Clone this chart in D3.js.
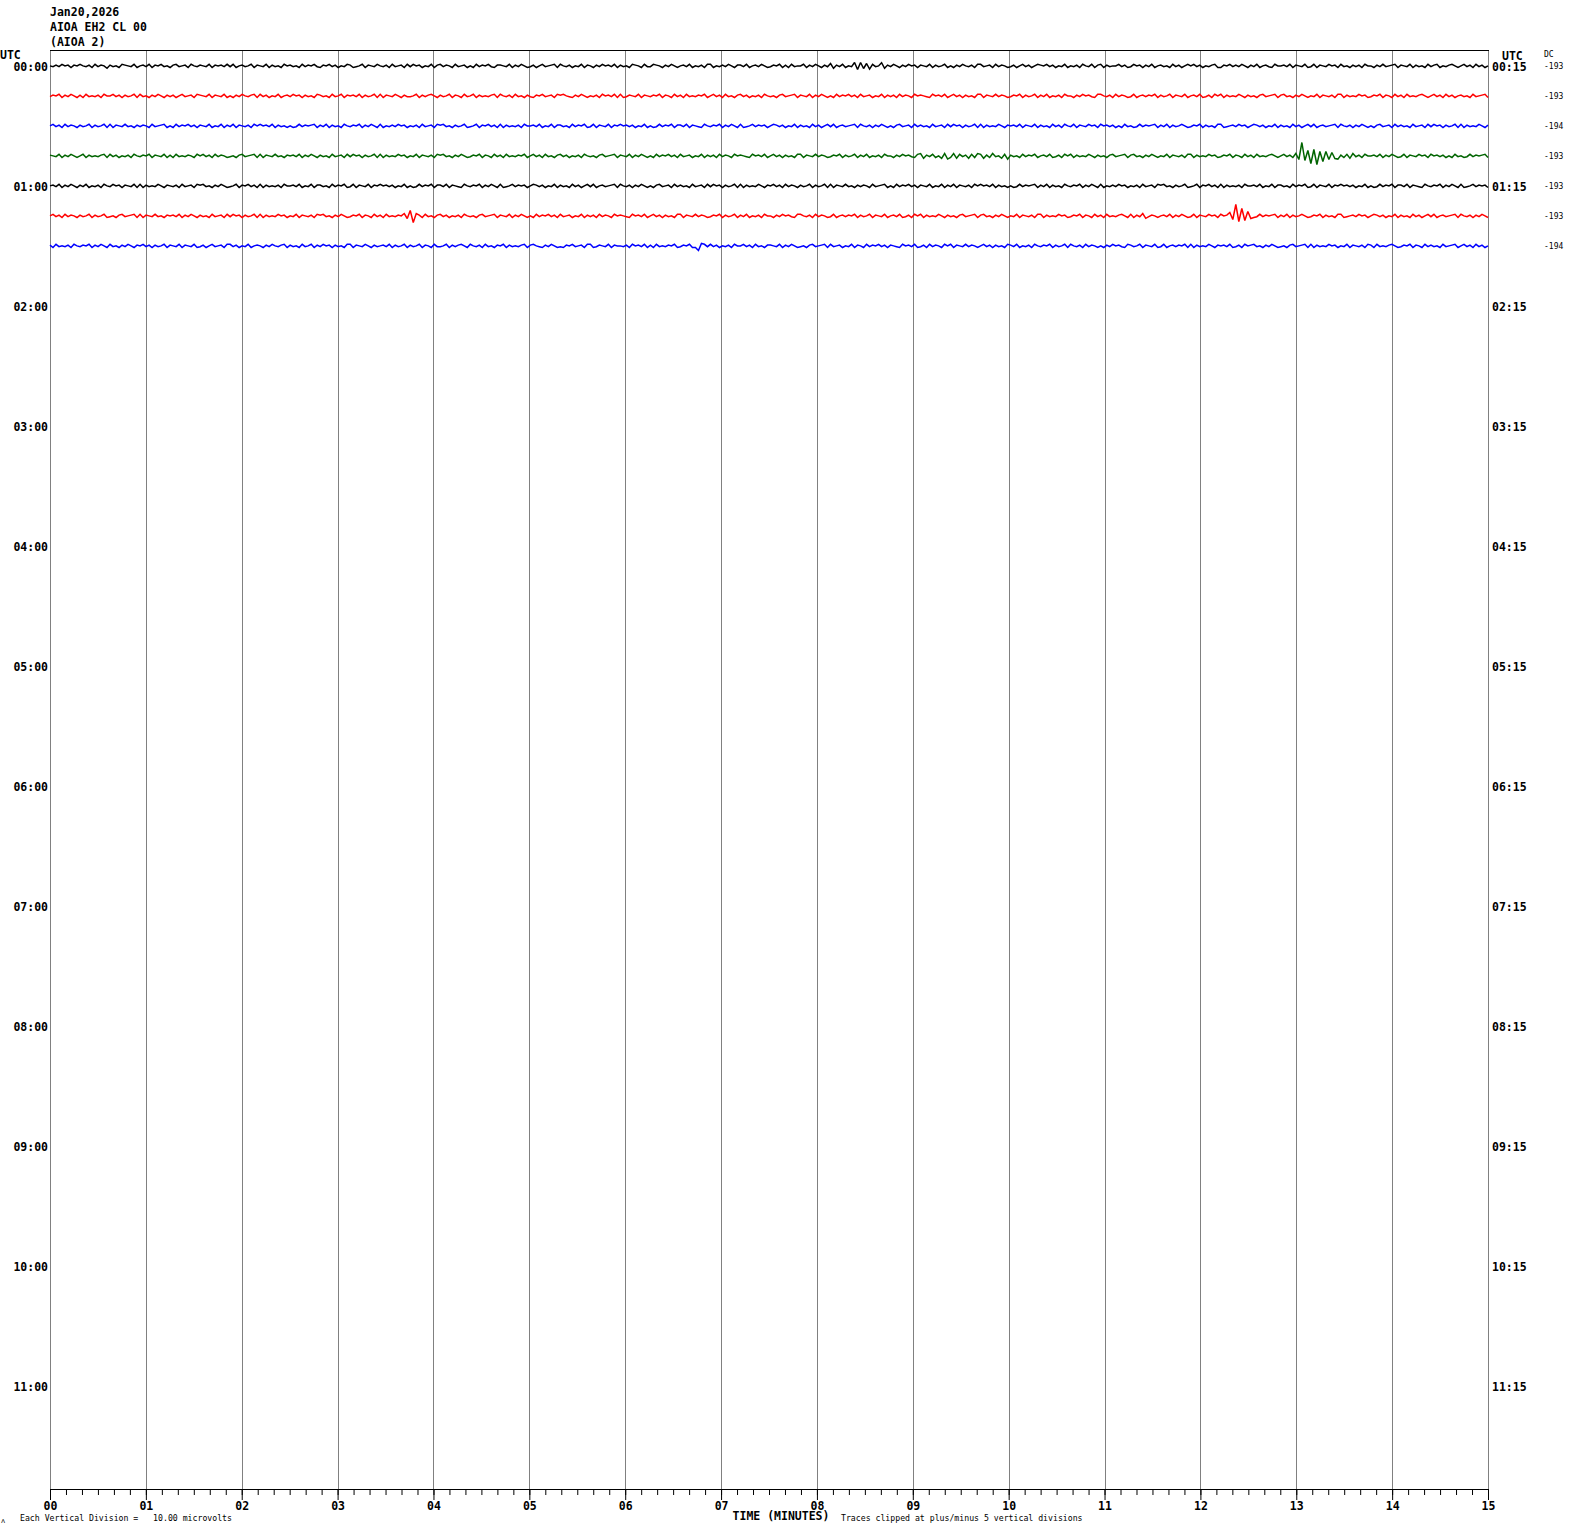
<!DOCTYPE html>
<html><head><meta charset="utf-8">
<script src="https://cdn.jsdelivr.net/npm/d3@7"></script>
<style>body{margin:0;background:#fff}svg{display:block}</style>
</head><body>
<svg id="c" width="1570" height="1534"></svg>
<script>
// ---------------- DATA ----------------
const headerLines = ["Jan20,2026", "AIOA EH2 CL 00", "(AIOA 2)"];
const leftHourLabels = ["00:00","01:00","02:00","03:00","04:00","05:00","06:00","07:00","08:00","09:00","10:00","11:00"];
const rightHourLabels = ["00:15","01:15","02:15","03:15","04:15","05:15","06:15","07:15","08:15","09:15","10:15","11:15"];
const minuteTicks = [0,1,2,3,4,5,6,7,8,9,10,11,12,13,14,15];
const minuteLabels = ["00","01","02","03","04","05","06","07","08","09","10","11","12","13","14","15"];
const traceColors = ["#000000", "#ff0000", "#0000ff", "#006400"];
const dcValues = ["-193", "-193", "-194", "-193", "-193", "-193", "-194"];

// trace samples: each digit 0..9 is a deflection (5 ~ baseline), 480 samples over 15 minutes
const trace0 = "5646354745 3564736458 4657345637 5463745365 7436547356 4563745463 6375465374 5637465735 4657364536 7453647563 4765374563 5647365473 6354756374 3645736547 5736453674 4563746357 6475365437 3564756374 5746354637 4657345736 6345746357 5463756473 3756463574 4637546357 6453747365 5374635746 2846375638 4729365184 6357463547 4563746537 5746356473 3654736457 6475364753 4536475637 5647356374 3746553647 6354746375 4657364753 5364756437 7453646357 4637546735 5463745637 6374563547 3657464735 5746365437 4563746573 6437564357 5364736475";
const trace1 = "6453746357 4736564735 5364746537 3657463574 6475365473 4563745637 5746356437 3647563754 6354746573 4657365374 5463746537 3745635746 6537464357 4653745736 5374656437 3564736574 6745365473 4356746357 5647354637 3764563745 6453745736 4736564537 5364736574 3647564735 6574365437 4563746357 5736453647 3654756374 6473645735 4567354637 5364746573 3745636457 6453746537 4637564735 5746354673 3564736457 6375464537 4653745637 5463764735 3746563574 6574365437 4365746357 5637456473 3746563547 6453745736 4736564357 5364736475 4657365437";
const trace2 = "5364736457 4653746537 3745636574 6457365437 5736453647 4563756374 6374564735 3546374657 5763645437 4637465735 6453746357 3756463547 5647365473 4365746537 6537453647 3746564735 5463756374 4657364537 6374563745 3546475637 5763645374 4637456735 6453746357 3765364547 5346475637 4657364753 6375465437 3564746357 5743654736 4657365473 6354746537 3746563574 5463745637 4657364735 6374563547 3546475736 5763645437 4637465357 6453746573 3765463547 5346475637 4657364753 6375465437 3564746357 5743654736 4657365473 6354746537 3746563574";
const trace3 = "4563746357 5374656437 3647564735 6453745637 4736564573 5364736457 6574365437 3745636574 5463746357 4657365473 6354746537 3746563547 5637456473 4365746357 6453745736 4736564537 5364736574 3647564735 6574365437 4563746357 5736453647 3654756374 6473645735 4567354637 5364746573 3745636457 6453746537 4637564735 5746354673 2846375829 7283648372 3847265839 4657364537 5463764735 3746563574 6574365437 4365746357 5637456473 3746563547 6453745736 4736564357 5364736475 3827463829 4738264735 5463746357 6374563547 3546475736 5763645437";
const trace4 = "5463746357 4637564735 6354745637 3746563574 5647365473 4365746357 6537453647 3746564735 5463756374 4657364537 6374563745 3546475637 5763645374 4637456735 6453746357 3765364547 5346475637 4657364753 6375465437 3564746357 5743654736 4657365473 6354746537 3746563574 5364736457 4653746537 3745636574 6457365437 5736453647 4563756374 6374564735 3546374657 5763645437 4637465735 6453746357 3756463547 5647365473 4365746537 6537453647 3746564735 5463756374 4657364537 6374563745 3546475637 5763645374 4637456735 6453746357 3765364547";
const trace5 = "5364736457 4653746537 6574365437 3745636574 5463746357 4657365473 6354746537 3746563547 5637456473 4365746357 6453745736 4736564537 5364736574 3647564735 6574365437 4563746357 5736453647 3654756374 6473645735 4567354637 5364746573 3745636457 6453746537 4637564735 5746354673 3564736457 6375464537 4653745637 5463764735 3746563574 6574365437 4365746357 5637456473 3746563547 6453745736 4736564357 3746286457 5463746357 6374563547 3546475736 5763645437 4637465357 6453746573 3765463547 5346475637 4657364753 6375465437 3564746357";
const trace6 = "4736564735 6453746357 3657463574 5364746537 4563745637 6475365473 3647563754 5746356437 4657365374 6354746573 3745635746 5463746537 4653745736 6537464357 3564736574 5374656437 4356746357 6745365473 3764563745 5647354637 4736564537 6453745736 3647564735 5364736574 4563746357 6574365437 3654756374 5736453647 4567354637 6473645735 3745636457 5364746573 4637564735 6453746537 3564736457 5746354673 4653745637 6375464537 3746563574 5463764735 4365746357 6574365437 3746563547 5637456473 4736564357 6453745736 4657365437 5364736475";
const traceStrings = [trace0, trace1, trace2, trace3, trace4, trace5, trace6];

// seismic events: row, first sample index, pixel deflections (negative = up)
const eventRows = [0, 3, 5, 5, 6];
const eventStarts = [268, 415, 118, 393, 215];
const eventValues = [
  [-3, 4, -3, 3],
  [-2, 4, -13, 5, -5, 8, -6, 9, -4, 6, -4, 4, -3, 3],
  [-2, 3, -5, 7, -2],
  [-3, 4, -11, 6, -7, 5, -4, 3],
  [2, 5, -2]
];

// ---------------- CHART ----------------
const svg = d3.select("#c");
const plotLeft = 50, plotRight = 1488, plotTop = 50, axisY = 1489;
const x = d3.scaleLinear().domain([0, 15]).range([plotLeft, plotRight]);
const rowY = d3.scaleLinear().domain([0, 48]).range([65, 1505]);
const amp = d3.scaleLinear().domain([0, 9]).range([-3.6, 3.6]);
const monoBold = "'DejaVu Sans Mono', monospace";

// header
svg.selectAll("text.hdr").data(headerLines).join("text")
  .attr("class", "hdr").attr("x", 50).attr("y", (d, i) => 16 + i * 15)
  .attr("font-family", monoBold).attr("font-weight", "bold").attr("font-size", 11.5)
  .text(d => d);

// grid lines
svg.append("g").selectAll("line").data(minuteTicks).join("line")
  .attr("x1", d => Math.round(x(d)) + 0.5).attr("x2", d => Math.round(x(d)) + 0.5)
  .attr("y1", plotTop).attr("y2", axisY)
  .attr("stroke", "#808080").attr("stroke-width", 1);
svg.append("line").attr("x1", plotLeft).attr("x2", plotRight + 1).attr("y1", plotTop + 0.5).attr("y2", plotTop + 0.5)
  .attr("stroke", "#000");

// UTC headers
const lab = svg.append("g").attr("font-family", monoBold).attr("font-weight", "bold").attr("font-size", 11.5);
lab.append("text").attr("x", 0).attr("y", 59).text("UTC");
lab.append("text").attr("x", 1502).attr("y", 60).text("UTC");
lab.selectAll("text.lh").data(leftHourLabels).join("text").attr("class", "lh")
  .attr("x", 48).attr("y", (d, i) => rowY(i * 4) + 5.5).attr("text-anchor", "end").text(d => d);
lab.selectAll("text.rh").data(rightHourLabels).join("text").attr("class", "rh")
  .attr("x", 1492).attr("y", (d, i) => rowY(i * 4) + 5.5).text(d => d);

// DC column
const dc = svg.append("g").attr("font-family", monoBold).attr("font-size", 8);
dc.append("text").attr("x", 1544).attr("y", 57).text("DC");
dc.selectAll("text.dcv").data(dcValues).join("text").attr("class", "dcv")
  .attr("x", 1544).attr("y", (d, i) => rowY(i) + 3.5).text(d => d);

// traces
traceStrings.forEach((s, r) => {
  const vals = s.replace(/\s/g, "").split("").map(Number).map(amp);
  eventRows.forEach((er, k) => {
    if (er === r) eventValues[k].forEach((v, j) => { vals[eventStarts[k] + j] = v; });
  });
  const n = vals.length;
  const line = d3.line()
    .x((d, i) => x(i * 15 / (n - 1))).y(d => rowY(r) + 0.5 + d);
  svg.append("path").datum(vals).attr("d", line)
    .attr("fill", "none").attr("stroke", traceColors[r % 4]).attr("stroke-width", 1.5)
    .attr("stroke-linejoin", "miter").attr("stroke-miterlimit", 2);
});

// bottom axis
const minorTicks = d3.range(0, 15.0001, 1 / 6);
svg.append("g").attr("transform", `translate(0,${axisY})`)
  .call(d3.axisBottom(x).tickValues(minorTicks).tickSize(6).tickSizeOuter(0).tickFormat(""))
  .call(g => g.selectAll("path,line").attr("stroke", "#000"));
svg.append("g").attr("transform", `translate(0,${axisY})`)
  .call(d3.axisBottom(x).tickValues(minuteTicks).tickSize(11).tickSizeOuter(0).tickPadding(2)
    .tickFormat((d, i) => minuteLabels[i]))
  .call(g => g.selectAll("path,line").attr("stroke", "#000"))
  .call(g => g.selectAll("text").attr("font-family", monoBold).attr("font-weight", "bold")
    .attr("font-size", 11.5).attr("fill", "#000"));

// footer
svg.append("text").attr("x", 781).attr("y", 1520).attr("text-anchor", "middle")
  .attr("font-family", monoBold).attr("font-weight", "bold").attr("font-size", 11.5).text("TIME (MINUTES)");
const foot = svg.append("g").attr("font-family", monoBold).attr("font-size", 8.2);
foot.append("text").attr("x", 20).attr("y", 1521).style("white-space", "pre").text("Each Vertical Division =   10.00 microvolts");
foot.append("text").attr("x", 841).attr("y", 1521).text("Traces clipped at plus/minus 5 vertical divisions");
foot.append("text").attr("x", 1).attr("y", 1523).attr("font-size", 7).text("ʌ");
</script>
</body></html>
